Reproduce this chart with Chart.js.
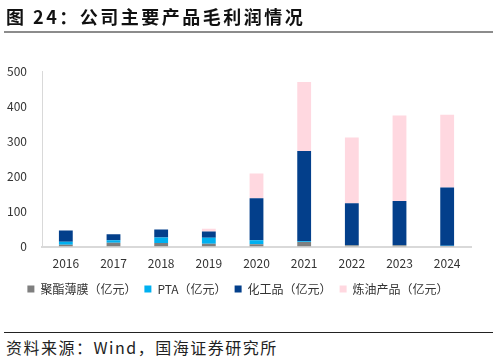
<!DOCTYPE html>
<html>
<head>
<meta charset="utf-8">
<script src="https://cdn.jsdelivr.net/npm/chart.js@4/dist/chart.umd.min.js"></script>
<style>
  body { margin: 0; background: #fff; font-family: "Noto Sans CJK SC", sans-serif; }
  #wrap { position: relative; width: 498px; height: 361px; overflow: hidden; }
  #title { position: absolute; left: 6px; top: 3px; font-size: 18px; font-weight: bold; color: #111; letter-spacing: 2.5px; }
  #topline { position: absolute; left: 4px; right: 5px; top: 31px; height: 2px; background: #8c8c8c; }
  #botline { position: absolute; left: 4px; right: 5px; top: 332px; height: 1px; background: #222; }
  #source { position: absolute; left: 6px; top: 335px; font-size: 16px; color: #222; letter-spacing: 1.5px; }
  canvas { position: absolute; left: 0; top: 0; }
</style>
</head>
<body>
<div id="wrap">
  <canvas id="profitChart" width="498" height="330"></canvas>
  <div id="title">图 24：公司主要产品毛利润情况</div>
  <div id="topline"></div>
  <div id="botline"></div>
  <div id="source">资料来源：Wind，国海证券研究所</div>
</div>
<script>
// 年份
const years = ['2016', '2017', '2018', '2019', '2020', '2021', '2022', '2023', '2024'];

// 各产品毛利润（亿元）
const filmProfit = [5, 11, 10, 8, 7, 13, 4, 4, 2];
const ptaProfit = [9, 7, 16, 17, 11, 2, 0.5, 0.5, 0.5];
const chemProfit = [32, 17, 23, 18, 120, 257, 119, 125, 166];
const refineProfit = [0, 0, 0, 8, 70, 197, 187, 244, 207];

const yTicks = [0, 100, 200, 300, 400, 500];

// 图例往上挪一点，贴近横轴标签
const legendShift = {
    id: 'legendShift',
    afterLayout(chart) {
        if (chart.legend) {
            chart.legend.top -= 6;
            chart.legend.bottom -= 6;
        }
    }
};

const ctx = document.getElementById('profitChart').getContext('2d');
new Chart(ctx, {
    type: 'bar',
    data: {
        labels: years,
        datasets: [
            { label: '聚酯薄膜（亿元）', data: filmProfit, backgroundColor: '#7f7f7f' },
            { label: 'PTA（亿元）', data: ptaProfit, backgroundColor: '#00b0f0' },
            { label: '化工品（亿元）', data: chemProfit, backgroundColor: '#033f8b' },
            { label: '炼油产品（亿元）', data: refineProfit, backgroundColor: '#ffd8e0' }
        ]
    },
    plugins: [legendShift],
    options: {
        responsive: false,
        animation: false,
        layout: { padding: { left: 5, right: 27, top: 71, bottom: 19 } },
        datasets: {
            bar: { barPercentage: 0.29, categoryPercentage: 1, borderWidth: 0 }
        },
        scales: {
            x: {
                stacked: true,
                grid: { display: false, drawTicks: false },
                border: { color: '#d9d9d9', width: 2 },
                ticks: { color: '#333', font: { size: 12, family: 'Noto Sans CJK SC' }, padding: 10 }
            },
            y: {
                stacked: true,
                min: 0,
                max: 500,
                afterBuildTicks: axis => { axis.ticks = yTicks.map(v => ({ value: v })); },
                afterFit: axis => { axis.width = 37; },
                grid: { display: false, drawTicks: false },
                border: { color: '#d9d9d9', width: 1 },
                ticks: { color: '#333', font: { size: 12, family: 'Noto Sans CJK SC' }, padding: 15 }
            }
        },
        plugins: {
            legend: {
                position: 'bottom',
                labels: {
                    boxWidth: 7,
                    boxHeight: 7,
                    padding: 8,
                    color: '#333',
                    font: { size: 12, family: 'Noto Sans CJK SC' }
                }
            },
            tooltip: { enabled: false }
        }
    }
});
</script>
</body>
</html>
